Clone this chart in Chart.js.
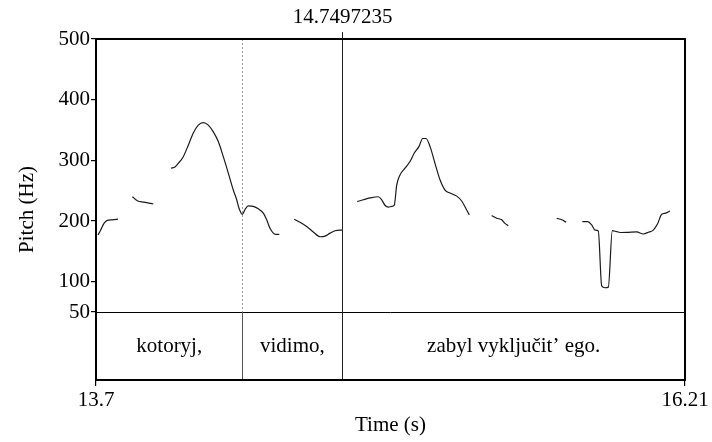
<!DOCTYPE html>
<html>
<head>
<meta charset="utf-8">
<script src="https://cdn.jsdelivr.net/npm/chart.js@4.4.1/dist/chart.umd.min.js"></script>
<style>
html,body{margin:0;padding:0;background:#fff;}
canvas{display:block;}
</style>
</head>
<body>
<canvas id="c" width="712" height="442"></canvas>
<script>
// ---- data ----
const times = [
  13.7085,13.72,13.734,13.748,13.7695,13.7938, 13.82,
  13.855,13.876,13.9045,13.944, 13.98,
  14.0196,14.0367,14.0507,14.072,14.0933,14.1146,14.1359,14.1573,14.1786,14.1999,14.2212,14.2425,14.2638,14.2851,14.2996,14.3094,14.3235,14.335,14.349,14.3703,14.3916,14.413,14.4274,14.4415,14.4556,14.4658,14.4811, 14.51,
  14.545,14.5693,14.5979,14.626,14.6546,14.6759,14.6972,14.7185,14.7398,14.7513, 14.78,
  14.8135,14.8391,14.8676,14.903,14.9175,14.9315,14.9456,14.9601,14.9712,14.9814,14.9955,15.0168,15.0381,15.0564,15.0765,15.0922,15.1063,15.1233,15.1446,15.166,15.1873,15.2086,15.2371,15.2584,15.2797,15.2908, 15.34,
  15.3863,15.4076,15.4289,15.443,15.457, 15.55,
  15.6635,15.6848,15.7036, 15.74,
  15.7724,15.7954,15.8124,15.8265,15.8405,15.855,15.8691,15.8832,15.9002,15.919,15.9403,15.9684,16.0042,16.0323,16.0536,16.0749,16.0937,16.1107,16.1278,16.1461
];
const pitch = [
  177,185,196,201,202,203, null,
  240,233.5,231,228, null,
  287,289,295,306,325,345,358,362,358,347,331,306,279,251,235,221,211,219,225,224,220,213,202,188,180,178,178, null,
  203,198,191,182,174,175,180,184,185,185, null,
  232,235,238,240,235,226,223,224,226,259,276,287,298,312,323,336,336,323,295,268,251,246,241,233,218,210, null,
  209,204.5,202,196,192, null,
  204.5,202,198, null,
  199,199,193.5,185,183.6,93,90,91,184,182.4,181,181.4,182,178.6,181.4,185,196,211,213,216.5
];
const yTicks = [50,100,200,300,400,500];
const xTicks = [13.7,16.21];
const tierLabels = ['kotoryj,','vidimo,','zabyl vyključit’ ego.'];
const tierBounds = [13.7,14.3243,14.7497235,16.21];
const cursorTime = 14.7497235;
const cursorLabel = '14.7497235';
const pitchFloor = 50;
const yMin = -62.1, yMax = 500;

const FONT = 'Liberation Serif, Times New Roman, serif';
const font = {family: FONT, size: 21};

const tierPlugin = {
  id: 'tier',
  afterDraw(chart) {
    const ctx = chart.ctx;
    const xs = chart.scales.x, ys = chart.scales.y;
    const L = chart.chartArea.left, R = chart.chartArea.right, T = chart.chartArea.top, B = chart.chartArea.bottom;
    const y50 = ys.getPixelForValue(pitchFloor);
    ctx.save();
    // floor line
    ctx.strokeStyle = '#000'; ctx.lineWidth = 1;
    ctx.beginPath(); ctx.moveTo(L, Math.round(y50)+0.5); ctx.lineTo(R, Math.round(y50)+0.5); ctx.stroke();
    // inner tier boundaries
    for (let i = 1; i < tierBounds.length - 1; i++) {
      const x = Math.round(xs.getPixelForValue(tierBounds[i])) + 0.5;
      const isCursor = Math.abs(tierBounds[i] - cursorTime) < 1e-6;
      if (!isCursor) {
        ctx.strokeStyle = '#999'; ctx.lineWidth = 1; ctx.setLineDash([2,2]);
        ctx.beginPath(); ctx.moveTo(x, T); ctx.lineTo(x, y50); ctx.stroke();
        ctx.setLineDash([]);
        ctx.strokeStyle = '#555';
        ctx.beginPath(); ctx.moveTo(x, y50); ctx.lineTo(x, B); ctx.stroke();
      }
    }
    // cursor line
    const xc = Math.round(xs.getPixelForValue(cursorTime)) + 0.5;
    ctx.strokeStyle = '#222'; ctx.lineWidth = 1;
    ctx.beginPath(); ctx.moveTo(xc, T - 7); ctx.lineTo(xc, B); ctx.stroke();
    ctx.fillStyle = '#000';
    ctx.font = '21px ' + FONT;
    ctx.textAlign = 'center'; ctx.textBaseline = 'middle';
    ctx.fillText(cursorLabel, xc, T - 22);
    // tier labels
    const yMid = (y50 + B) / 2;
    for (let i = 0; i < tierLabels.length; i++) {
      const xa = xs.getPixelForValue(tierBounds[i]), xb = xs.getPixelForValue(tierBounds[i+1]);
      ctx.fillText(tierLabels[i], (xa + xb) / 2, yMid);
    }
    // frame
    ctx.strokeStyle = '#000'; ctx.lineWidth = 2;
    ctx.strokeRect(L, T, R - L, B - T);
    ctx.restore();
  }
};

new Chart(document.getElementById('c'), {
  type: 'line',
  data: {
    datasets: [{
      data: times.map((t, i) => ({x: t, y: pitch[i]})),
      borderColor: '#1a1a1a',
      borderWidth: 1.2,
      pointRadius: 0,
      spanGaps: false,
      cubicInterpolationMode: 'monotone',
      fill: false
    }]
  },
  options: {
    responsive: false,
    animation: false,
    devicePixelRatio: 1,
    layout: {padding: {top: 39, right: 27, left: 0, bottom: 0}},
    plugins: {legend: {display: false}, tooltip: {enabled: false}},
    scales: {
      x: {
        type: 'linear', min: 13.7, max: 16.21,
        afterBuildTicks: s => { s.ticks = xTicks.map(v => ({value: v})); },
        afterFit: s => { s.height = 62; },
        ticks: {autoSkip: false, maxRotation: 0, color: '#000', font: font, padding: 2,
                callback: v => String(v)},
        grid: {drawOnChartArea: false, tickLength: 6, color: '#000', lineWidth: 1.2},
        border: {display: false},
        title: {display: true, text: 'Time (s)', color: '#000', font: font, padding: {top: 0, bottom: 4}}
      },
      y: {
        type: 'linear', min: yMin, max: yMax,
        afterBuildTicks: s => { s.ticks = yTicks.map(v => ({value: v})); },
        afterFit: s => { s.width = 96; },
        ticks: {autoSkip: false, color: '#000', font: font, padding: 1,
                callback: v => String(v)},
        grid: {drawOnChartArea: false, tickLength: 5, color: '#000', lineWidth: 1.2},
        border: {display: false},
        title: {display: true, text: 'Pitch (Hz)', color: '#000', font: font, padding: {top: 15, bottom: 0}}
      }
    }
  },
  plugins: [tierPlugin]
});
</script>
</body>
</html>
